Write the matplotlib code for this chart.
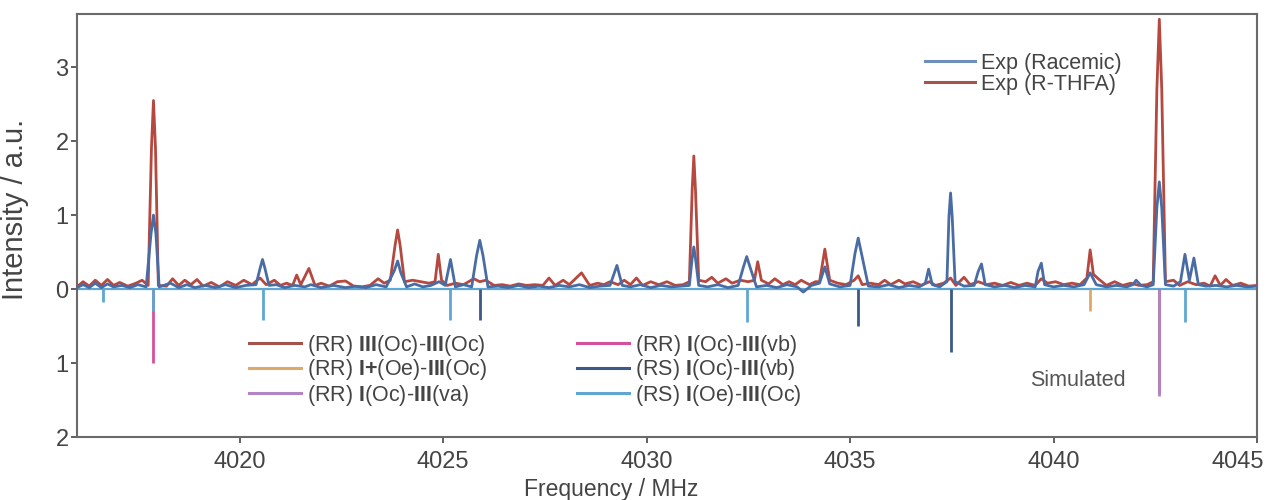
import matplotlib; matplotlib.use('agg')
import matplotlib.pyplot as plt
from matplotlib.lines import Line2D
from matplotlib.transforms import ScaledTranslation

plt.rcParams['font.family'] = ['Liberation Sans', 'DejaVu Sans']
plt.rcParams['mathtext.fontset'] = 'custom'
plt.rcParams['mathtext.rm'] = 'Liberation Sans'
plt.rcParams['mathtext.bf'] = 'Liberation Sans:bold'

# experimental spectrum, R-THFA sample (MHz, a.u.)
freq_r = [4016.0, 4016.15, 4016.3, 4016.45, 4016.6, 4016.75, 4016.9, 4017.05, 4017.25, 4017.45,
          4017.6, 4017.75, 4017.83, 4017.88, 4017.93, 4018.0, 4018.2, 4018.35, 4018.5, 4018.65,
          4018.8, 4018.95, 4019.1, 4019.3, 4019.5, 4019.7, 4019.9, 4020.1, 4020.3, 4020.5,
          4020.65, 4020.85, 4021.0, 4021.15, 4021.3, 4021.4, 4021.5, 4021.7, 4021.85, 4022.0,
          4022.2, 4022.4, 4022.6, 4022.8, 4023.0, 4023.2, 4023.4, 4023.55, 4023.7, 4023.82,
          4023.88, 4023.94, 4024.05, 4024.25, 4024.45, 4024.65, 4024.8, 4024.88, 4024.96, 4025.1,
          4025.3, 4025.5, 4025.75, 4025.9, 4026.05, 4026.25, 4026.45, 4026.65, 4026.85, 4027.05,
          4027.25, 4027.45, 4027.6, 4027.75, 4027.95, 4028.1, 4028.4, 4028.6, 4028.8, 4028.95,
          4029.1, 4029.3, 4029.45, 4029.6, 4029.75, 4029.9, 4030.1, 4030.3, 4030.5, 4030.7,
          4030.9, 4031.05, 4031.12, 4031.16, 4031.2, 4031.28, 4031.45, 4031.6, 4031.75, 4031.95,
          4032.1, 4032.3, 4032.5, 4032.65, 4032.73, 4032.82, 4033.0, 4033.15, 4033.35, 4033.5,
          4033.65, 4033.8, 4034.0, 4034.15, 4034.25, 4034.38, 4034.5, 4034.7, 4034.9, 4035.1,
          4035.2, 4035.3, 4035.5, 4035.7, 4035.85, 4036.0, 4036.2, 4036.35, 4036.55, 4036.75,
          4036.95, 4037.1, 4037.3, 4037.47, 4037.6, 4037.8, 4037.95, 4038.15, 4038.35, 4038.55,
          4038.75, 4038.95, 4039.15, 4039.35, 4039.55, 4039.7, 4039.85, 4040.05, 4040.25, 4040.45,
          4040.65, 4040.82, 4040.9, 4040.98, 4041.1, 4041.3, 4041.5, 4041.7, 4041.9, 4042.1,
          4042.3, 4042.45, 4042.54, 4042.6, 4042.66, 4042.75, 4042.95, 4043.1, 4043.3, 4043.5,
          4043.7, 4043.85, 4043.97, 4044.1, 4044.24, 4044.4, 4044.6, 4044.8, 4045.0]
int_r = [0.03, 0.10, 0.04, 0.12, 0.05, 0.13, 0.05, 0.09, 0.04, 0.08,
         0.12, 0.05, 1.90, 2.55, 1.90, 0.05, 0.04, 0.14, 0.05, 0.12,
         0.06, 0.13, 0.04, 0.09, 0.03, 0.10, 0.05, 0.12, 0.06, 0.15,
         0.06, 0.12, 0.05, 0.08, 0.05, 0.19, 0.06, 0.28, 0.05, 0.08,
         0.04, 0.10, 0.11, 0.04, 0.03, 0.05, 0.14, 0.08, 0.12, 0.60,
         0.80, 0.60, 0.10, 0.12, 0.10, 0.08, 0.10, 0.47, 0.12, 0.05,
         0.08, 0.06, 0.14, 0.10, 0.12, 0.05, 0.06, 0.04, 0.07, 0.05,
         0.06, 0.05, 0.15, 0.05, 0.12, 0.06, 0.22, 0.05, 0.08, 0.06,
         0.10, 0.06, 0.12, 0.06, 0.15, 0.05, 0.10, 0.06, 0.10, 0.05,
         0.06, 0.10, 1.35, 1.80, 1.35, 0.12, 0.10, 0.16, 0.08, 0.14,
         0.08, 0.12, 0.10, 0.12, 0.37, 0.12, 0.07, 0.14, 0.06, 0.10,
         0.06, 0.12, 0.06, 0.10, 0.10, 0.54, 0.12, 0.08, 0.06, 0.12,
         0.18, 0.06, 0.08, 0.06, 0.12, 0.06, 0.12, 0.07, 0.10, 0.05,
         0.10, 0.05, 0.08, 0.15, 0.05, 0.16, 0.06, 0.10, 0.06, 0.08,
         0.05, 0.09, 0.05, 0.08, 0.05, 0.14, 0.08, 0.10, 0.06, 0.08,
         0.06, 0.15, 0.53, 0.20, 0.14, 0.05, 0.10, 0.05, 0.08, 0.05,
         0.06, 0.10, 2.70, 3.65, 2.70, 0.10, 0.12, 0.05, 0.10, 0.06,
         0.08, 0.04, 0.18, 0.05, 0.13, 0.05, 0.08, 0.04, 0.05]

# experimental spectrum, racemic sample
freq_rac = [4016.0, 4016.15, 4016.3, 4016.45, 4016.6, 4016.75, 4016.9, 4017.1, 4017.3, 4017.5,
            4017.7, 4017.82, 4017.88, 4017.94, 4018.02, 4018.3, 4018.5, 4018.7, 4018.9, 4019.15,
            4019.4, 4019.65, 4019.9, 4020.15, 4020.4, 4020.5, 4020.56, 4020.62, 4020.72, 4020.9,
            4021.1, 4021.35, 4021.6, 4021.75, 4022.0, 4022.3, 4022.6, 4022.85, 4023.1, 4023.35,
            4023.6, 4023.8, 4023.88, 4023.96, 4024.1, 4024.3, 4024.5, 4024.7, 4024.9, 4025.05,
            4025.18, 4025.3, 4025.5, 4025.7, 4025.82, 4025.9, 4025.98, 4026.1, 4026.35, 4026.6,
            4026.85, 4027.1, 4027.35, 4027.6, 4027.85, 4028.1, 4028.35, 4028.6, 4028.85, 4029.1,
            4029.27, 4029.4, 4029.6, 4029.85, 4030.1, 4030.35, 4030.6, 4030.85, 4031.05, 4031.12,
            4031.16, 4031.2, 4031.28, 4031.5, 4031.75, 4032.0, 4032.25, 4032.38, 4032.46, 4032.54,
            4032.7, 4032.95, 4033.2, 4033.45, 4033.7, 4033.85, 4034.05, 4034.25, 4034.38, 4034.5,
            4034.75, 4035.0, 4035.12, 4035.2, 4035.28, 4035.45, 4035.7, 4035.95, 4036.2, 4036.45,
            4036.7, 4036.85, 4036.93, 4037.02, 4037.2, 4037.38, 4037.43, 4037.47, 4037.51, 4037.58,
            4037.8, 4038.05, 4038.15, 4038.23, 4038.32, 4038.55, 4038.8, 4039.05, 4039.3, 4039.55,
            4039.62, 4039.7, 4039.78, 4040.0, 4040.25, 4040.5, 4040.75, 4040.9, 4041.05, 4041.3,
            4041.55, 4041.8, 4041.95, 4042.03, 4042.15, 4042.3, 4042.45, 4042.54, 4042.6, 4042.66,
            4042.75, 4042.95, 4043.12, 4043.23, 4043.34, 4043.45, 4043.56, 4043.75, 4044.0, 4044.25,
            4044.5, 4044.75, 4045.0]
int_rac = [0.02, 0.06, 0.02, 0.08, 0.02, 0.07, 0.03, 0.05, 0.02, 0.06,
           0.03, 0.75, 1.00, 0.75, 0.03, 0.08, 0.02, 0.06, 0.02, 0.05,
           0.02, 0.06, 0.02, 0.05, 0.06, 0.28, 0.40, 0.28, 0.05, 0.06,
           0.02, 0.05, 0.03, 0.06, 0.02, 0.05, 0.02, 0.04, 0.02, 0.06,
           0.03, 0.25, 0.38, 0.22, 0.03, 0.07, 0.03, 0.05, 0.10, 0.05,
           0.40, 0.03, 0.06, 0.03, 0.45, 0.66, 0.45, 0.03, 0.04, 0.02,
           0.05, 0.02, 0.04, 0.02, 0.05, 0.03, 0.06, 0.02, 0.04, 0.05,
           0.32, 0.05, 0.03, 0.06, 0.02, 0.05, 0.03, 0.04, 0.05, 0.42,
           0.57, 0.42, 0.05, 0.03, 0.06, 0.02, 0.05, 0.30, 0.44, 0.30,
           0.03, 0.05, 0.02, 0.06, 0.03, -0.04, 0.05, 0.08, 0.30, 0.07,
           0.03, 0.05, 0.48, 0.69, 0.48, 0.04, 0.03, 0.06, 0.02, 0.05,
           0.03, 0.08, 0.27, 0.06, 0.03, 0.10, 0.98, 1.30, 0.98, 0.10,
           0.04, 0.05, 0.24, 0.34, 0.06, 0.03, 0.05, 0.02, 0.05, 0.03,
           0.24, 0.35, 0.06, 0.03, 0.05, 0.03, 0.06, 0.22, 0.06, 0.03,
           0.05, 0.03, 0.06, 0.12, 0.05, 0.03, 0.06, 1.10, 1.45, 1.10,
           0.06, 0.04, 0.10, 0.47, 0.12, 0.42, 0.06, 0.04, 0.05, 0.03,
           0.05, 0.03, 0.04]

# simulated transitions (drawn downward)
sim_labels = ['(RR) $\\mathbf{III}$(Oc)-$\\mathbf{III}$(Oc)',
              '(RR) $\\mathbf{I}$$\\mathbf{+}$(Oe)-$\\mathbf{III}$(Oc)',
              '(RR) $\\mathbf{I}$(Oc)-$\\mathbf{III}$(va)',
              '(RR) $\\mathbf{I}$(Oc)-$\\mathbf{III}$(vb)',
              '(RS) $\\mathbf{I}$(Oc)-$\\mathbf{III}$(vb)',
              '(RS) $\\mathbf{I}$(Oe)-$\\mathbf{III}$(Oc)']
sim_colors = ['#a4524c', '#dda868', '#b483c4', '#d5509a', '#3b5a85', '#5fa6d2']
sim_freqs = [[4042.6], [4040.9], [4042.6], [4017.88],
             [4025.9, 4035.2, 4037.47],
             [4016.64, 4017.88, 4020.56, 4025.18, 4032.46, 4043.23]]
sim_ints = [[1.40], [0.30], [1.45], [1.00],
            [0.42, 0.50, 0.85],
            [0.18, 0.30, 0.42, 0.42, 0.45, 0.45]]

fig = plt.figure(figsize=(12.68, 5.0), dpi=100)
ax = fig.add_axes([0.0607, 0.126, 0.9306, 0.846])

ax.axhline(0, color=sim_colors[5], lw=1.6, zorder=1)
for c, fs, hs in zip(sim_colors, sim_freqs, sim_ints):
    ax.vlines(fs, [-h for h in hs], 0, colors=c, lw=2.0, zorder=2)

ax.plot(freq_r, int_r, color='#b5483f', lw=2.0, solid_joinstyle='round', zorder=3)
ax.plot(freq_rac, int_rac, color='#4a6ca4', lw=2.0, solid_joinstyle='round', zorder=4)

ax.set_xlim(4016, 4045)
ax.set_ylim(-2, 3.72)
ax.set_xticks([4020, 4025, 4030, 4035, 4040, 4045])
ax.set_yticks([-2, -1, 0, 1, 2, 3])
ax.set_yticklabels(['2', '1', '0', '1', '2', '3'])
ax.tick_params(axis='both', labelsize=17, colors='#444444', length=4, width=1.2)
ax.tick_params(axis='y', pad=2)
ax.tick_params(axis='x', pad=6)
for s in ax.spines.values():
    s.set_color('#6a6a6a')
    s.set_linewidth(1.5)

# keep the last frequency label inside the figure
last = ax.get_xticklabels()[-1]
last.set_transform(last.get_transform() + ScaledTranslation(-0.19, 0, fig.dpi_scale_trans))

ax.set_xlabel('Frequency / MHz', fontsize=16.5, color='#444444')
ax.set_ylabel('Intensity / a.u.', fontsize=21, color='#444444')
ax.xaxis.set_label_coords(0.453, -0.098)
ax.yaxis.set_label_coords(-0.041, 0.537)

exp_handles = [Line2D([], [], color='#6e8fb8', lw=2.2), Line2D([], [], color='#a8524c', lw=2.2)]
leg1 = fig.legend(exp_handles, ['Exp (Racemic)', 'Exp (R-THFA)'], loc='center left',
                  bbox_to_anchor=(925 / 1268, 1 - 74 / 500), frameon=False, fontsize=15.5,
                  handlelength=2.3, handletextpad=0.3, labelspacing=0.0, borderpad=0,
                  borderaxespad=0, labelcolor='#444444')

sim_handles = [Line2D([], [], color=c, lw=2.2) for c in sim_colors]
leg2 = fig.legend(sim_handles[:3], sim_labels[:3], loc='center left',
                  bbox_to_anchor=(249 / 1268, 1 - 370 / 500), frameon=False, fontsize=15.5,
                  handlelength=2.4, handletextpad=0.3, labelspacing=0.0, borderpad=0,
                  borderaxespad=0, labelcolor='#444444')
leg3 = fig.legend(sim_handles[3:], sim_labels[3:], loc='center left',
                  bbox_to_anchor=(577 / 1268, 1 - 370 / 500), frameon=False, fontsize=15.5,
                  handlelength=2.4, handletextpad=0.3, labelspacing=0.0, borderpad=0,
                  borderaxespad=0, labelcolor='#444444')

fig.text(1030 / 1268, 1 - 380 / 500, 'Simulated', fontsize=15.5, color='#555555', va='center')

fig.savefig('out.png', dpi=100)
